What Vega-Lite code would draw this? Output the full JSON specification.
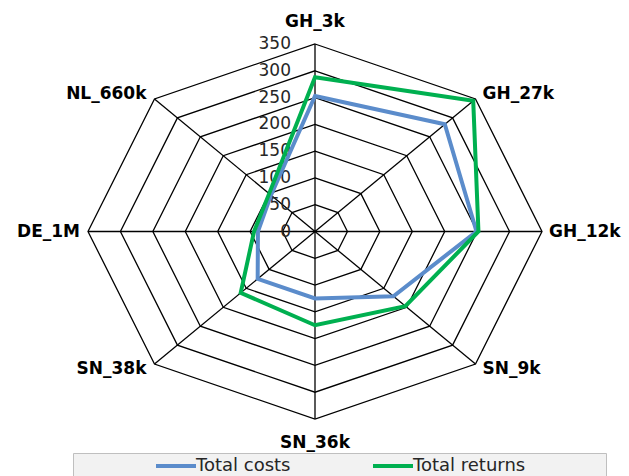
{
  "$schema": "https://vega.github.io/schema/vega-lite/v6.json",
  "width": 454,
  "height": 375,
  "autosize": "none",
  "padding": {"left": 88, "top": 44, "right": 87, "bottom": 57},
  "background": "white",
  "config": {"view": {"stroke": null}, "font": "DejaVu Sans"},
  "datasets": {
    "series": [
      {"cat": "GH_3k", "series": "Total costs", "value": 253},
      {"cat": "GH_27k", "series": "Total costs", "value": 283},
      {"cat": "GH_12k", "series": "Total costs", "value": 249},
      {"cat": "SN_9k", "series": "Total costs", "value": 171},
      {"cat": "SN_36k", "series": "Total costs", "value": 125},
      {"cat": "SN_38k", "series": "Total costs", "value": 125},
      {"cat": "DE_1M", "series": "Total costs", "value": 88},
      {"cat": "NL_660k", "series": "Total costs", "value": 96},
      {"cat": "GH_3k", "series": "Total returns", "value": 288},
      {"cat": "GH_27k", "series": "Total returns", "value": 345},
      {"cat": "GH_12k", "series": "Total returns", "value": 252},
      {"cat": "SN_9k", "series": "Total returns", "value": 197},
      {"cat": "SN_36k", "series": "Total returns", "value": 175},
      {"cat": "SN_38k", "series": "Total returns", "value": 162},
      {"cat": "DE_1M", "series": "Total returns", "value": 94},
      {"cat": "NL_660k", "series": "Total returns", "value": 100}
    ],
    "cats": [
      {"cat": "GH_3k", "rings": [50, 100, 150, 200, 250, 300, 350]},
      {"cat": "GH_27k", "rings": [50, 100, 150, 200, 250, 300, 350]},
      {"cat": "GH_12k", "rings": [50, 100, 150, 200, 250, 300, 350]},
      {"cat": "SN_9k", "rings": [50, 100, 150, 200, 250, 300, 350]},
      {"cat": "SN_36k", "rings": [50, 100, 150, 200, 250, 300, 350]},
      {"cat": "SN_38k", "rings": [50, 100, 150, 200, 250, 300, 350]},
      {"cat": "DE_1M", "rings": [50, 100, 150, 200, 250, 300, 350]},
      {"cat": "NL_660k", "rings": [50, 100, 150, 200, 250, 300, 350]}
    ],
    "ticks": [
      {"t": 0}, {"t": 50}, {"t": 100}, {"t": 150}, {"t": 200}, {"t": 250}, {"t": 300}, {"t": 350}
    ]
  },
  "layer": [
    {
      "data": {"name": "cats"},
      "transform": [
        {"flatten": ["rings"], "as": ["ring"]},
        {"calculate": "indexof(['GH_3k','GH_27k','GH_12k','SN_9k','SN_36k','SN_38k','DE_1M','NL_660k'], datum.cat)", "as": "idx"},
        {"calculate": "datum.ring*sin(datum.idx*PI/4)", "as": "gx"},
        {"calculate": "datum.ring*cos(datum.idx*PI/4)", "as": "gy"}
      ],
      "mark": {"type": "line", "interpolate": "linear-closed", "color": "black", "strokeWidth": 1.3},
      "encoding": {
        "x": {"field": "gx", "type": "quantitative", "scale": {"domain": [-350, 350], "nice": false, "zero": false}, "axis": null},
        "y": {"field": "gy", "type": "quantitative", "scale": {"domain": [-350, 350], "nice": false, "zero": false}, "axis": null},
        "detail": {"field": "ring"},
        "order": {"field": "idx"}
      }
    },
    {
      "data": {"name": "cats"},
      "transform": [
        {"calculate": "indexof(['GH_3k','GH_27k','GH_12k','SN_9k','SN_36k','SN_38k','DE_1M','NL_660k'], datum.cat)", "as": "idx"},
        {"calculate": "350*sin(datum.idx*PI/4)", "as": "sx"},
        {"calculate": "350*cos(datum.idx*PI/4)", "as": "sy"}
      ],
      "mark": {"type": "rule", "color": "black", "strokeWidth": 1.3},
      "encoding": {
        "x": {"field": "sx", "type": "quantitative", "scale": {"domain": [-350, 350], "nice": false, "zero": false}, "axis": null},
        "y": {"field": "sy", "type": "quantitative", "scale": {"domain": [-350, 350], "nice": false, "zero": false}, "axis": null},
        "x2": {"datum": 0},
        "y2": {"datum": 0}
      }
    },
    {
      "data": {"name": "ticks"},
      "mark": {"type": "text", "align": "right", "baseline": "middle", "dx": -24, "fontSize": 17, "color": "#262626", "font": "DejaVu Sans"},
      "encoding": {
        "x": {"datum": 0, "type": "quantitative", "scale": {"domain": [-350, 350], "nice": false, "zero": false}, "axis": null},
        "y": {"field": "t", "type": "quantitative", "scale": {"domain": [-350, 350], "nice": false, "zero": false}, "axis": null},
        "text": {"field": "t", "type": "quantitative"}
      }
    },
    {
      "data": {"name": "series"},
      "transform": [
        {"calculate": "indexof(['GH_3k','GH_27k','GH_12k','SN_9k','SN_36k','SN_38k','DE_1M','NL_660k'], datum.cat)", "as": "idx"},
        {"calculate": "datum.value*sin(datum.idx*PI/4)", "as": "px"},
        {"calculate": "datum.value*cos(datum.idx*PI/4)", "as": "py"}
      ],
      "mark": {"type": "line", "interpolate": "linear-closed", "strokeWidth": 4, "strokeJoin": "miter"},
      "encoding": {
        "x": {"field": "px", "type": "quantitative", "scale": {"domain": [-350, 350], "nice": false, "zero": false}, "axis": null},
        "y": {"field": "py", "type": "quantitative", "scale": {"domain": [-350, 350], "nice": false, "zero": false}, "axis": null},
        "order": {"field": "idx"},
        "color": {
          "field": "series",
          "type": "nominal",
          "scale": {"domain": ["Total costs", "Total returns"], "range": ["#5B8CCB", "#00B050"]},
          "legend": {
            "orient": "none",
            "legendX": -15,
            "legendY": 409,
            "direction": "horizontal",
            "title": "\u00a0",
            "titleOrient": "right",
            "titlePadding": 80,
            "titleFontSize": 17,
            "fillColor": "#F2F2F2",
            "strokeColor": "#BFBFBF",
            "padding": 1,
            "symbolType": "M-2,0H2",
            "symbolSize": 400,
            "symbolStrokeWidth": 4,
            "symbolOffset": 90,
            "labelOffset": 8,
            "labelFontSize": 18,
            "labelFont": "DejaVu Sans",
            "labelColor": "#262626",
            "columnPadding": 0,
            "labelLimit": 300
          }
        }
      }
    },
    {
      "data": {"name": "cats"},
      "transform": [
        {"calculate": "indexof(['GH_3k','GH_27k','GH_12k','SN_9k','SN_36k','SN_38k','DE_1M','NL_660k'], datum.cat)", "as": "idx"},
        {"calculate": "350*sin(datum.idx*PI/4)", "as": "lx"},
        {"calculate": "363*cos(datum.idx*PI/4)", "as": "ly"},
        {"filter": "datum.lx > 10"}
      ],
      "mark": {"type": "text", "align": "left", "baseline": "middle", "dx": 7, "fontSize": 17, "fontWeight": "bold", "color": "black", "font": "DejaVu Sans"},
      "encoding": {
        "x": {"field": "lx", "type": "quantitative", "scale": {"domain": [-350, 350], "nice": false, "zero": false}, "axis": null},
        "y": {"field": "ly", "type": "quantitative", "scale": {"domain": [-350, 350], "nice": false, "zero": false}, "axis": null},
        "text": {"field": "cat"}
      }
    },
    {
      "data": {"name": "cats"},
      "transform": [
        {"calculate": "indexof(['GH_3k','GH_27k','GH_12k','SN_9k','SN_36k','SN_38k','DE_1M','NL_660k'], datum.cat)", "as": "idx"},
        {"calculate": "350*sin(datum.idx*PI/4)", "as": "lx"},
        {"calculate": "363*cos(datum.idx*PI/4)", "as": "ly"},
        {"filter": "datum.lx < -10"}
      ],
      "mark": {"type": "text", "align": "right", "baseline": "middle", "dx": -8, "fontSize": 17, "fontWeight": "bold", "color": "black", "font": "DejaVu Sans"},
      "encoding": {
        "x": {"field": "lx", "type": "quantitative", "scale": {"domain": [-350, 350], "nice": false, "zero": false}, "axis": null},
        "y": {"field": "ly", "type": "quantitative", "scale": {"domain": [-350, 350], "nice": false, "zero": false}, "axis": null},
        "text": {"field": "cat"}
      }
    },
    {
      "data": {"name": "cats"},
      "transform": [
        {"calculate": "indexof(['GH_3k','GH_27k','GH_12k','SN_9k','SN_36k','SN_38k','DE_1M','NL_660k'], datum.cat)", "as": "idx"},
        {"calculate": "350*sin(datum.idx*PI/4)", "as": "lx"},
        {"calculate": "350*cos(datum.idx*PI/4)", "as": "ly"},
        {"filter": "datum.ly > 300"}
      ],
      "mark": {"type": "text", "align": "center", "baseline": "middle", "dy": -22, "fontSize": 17, "fontWeight": "bold", "color": "black", "font": "DejaVu Sans"},
      "encoding": {
        "x": {"field": "lx", "type": "quantitative", "scale": {"domain": [-350, 350], "nice": false, "zero": false}, "axis": null},
        "y": {"field": "ly", "type": "quantitative", "scale": {"domain": [-350, 350], "nice": false, "zero": false}, "axis": null},
        "text": {"field": "cat"}
      }
    },
    {
      "data": {"name": "cats"},
      "transform": [
        {"calculate": "indexof(['GH_3k','GH_27k','GH_12k','SN_9k','SN_36k','SN_38k','DE_1M','NL_660k'], datum.cat)", "as": "idx"},
        {"calculate": "350*sin(datum.idx*PI/4)", "as": "lx"},
        {"calculate": "350*cos(datum.idx*PI/4)", "as": "ly"},
        {"filter": "datum.ly < -300"}
      ],
      "mark": {"type": "text", "align": "center", "baseline": "middle", "dy": 24, "fontSize": 17, "fontWeight": "bold", "color": "black", "font": "DejaVu Sans"},
      "encoding": {
        "x": {"field": "lx", "type": "quantitative", "scale": {"domain": [-350, 350], "nice": false, "zero": false}, "axis": null},
        "y": {"field": "ly", "type": "quantitative", "scale": {"domain": [-350, 350], "nice": false, "zero": false}, "axis": null},
        "text": {"field": "cat"}
      }
    }
  ]
}
